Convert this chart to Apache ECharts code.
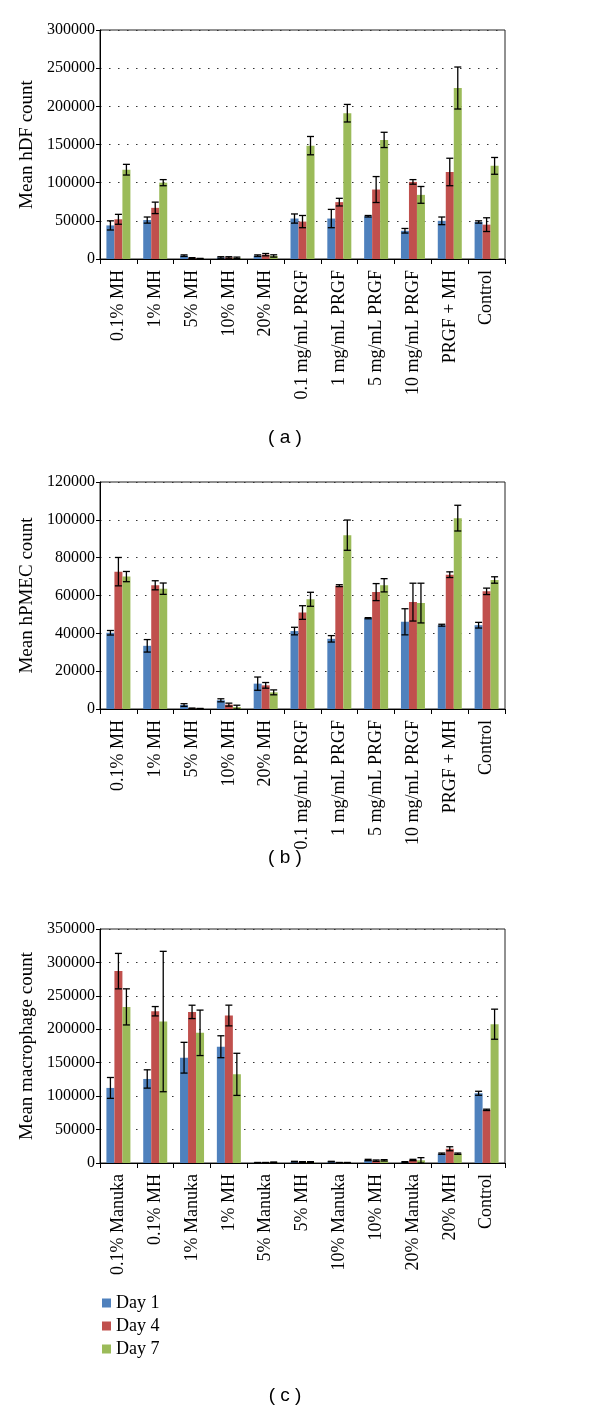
<!DOCTYPE html>
<html>
<head>
<meta charset="utf-8">
<script src="https://cdn.jsdelivr.net/npm/echarts@6/dist/echarts.min.js"></script>
<style>
html,body{margin:0;padding:0;background:#fff;}
#chart{width:600px;height:1409px;}
</style>
</head>
<body>
<div id="chart"></div>
<script>
// ---------- DATA ----------
const catsA = ['0.1% MH','1% MH','5% MH','10% MH','20% MH','0.1 mg/mL PRGF','1 mg/mL PRGF','5 mg/mL PRGF','10 mg/mL PRGF','PRGF + MH','Control'];
const day1A = [44000,51000,4400,2000,4400,53000,53000,56000,37000,50000,48500];
const err1A = [6000,4000,1000,1000,1000,6000,12000,1000,3000,5000,1500];
const day4A = [52000,67000,1300,2000,5700,49000,74500,91000,101000,114000,45000];
const err4A = [6500,7500,500,1000,1500,8000,5000,17000,3000,18000,9000];
const day7A = [117000,100000,500,1500,4000,148500,191000,156000,84000,224000,122000];
const err7A = [7000,4000,300,1000,1500,12000,11500,10000,11000,27500,11000];

const catsB = ['0.1% MH','1% MH','5% MH','10% MH','20% MH','0.1 mg/mL PRGF','1 mg/mL PRGF','5 mg/mL PRGF','10 mg/mL PRGF','PRGF + MH','Control'];
const day1B = [40300,33400,2100,4600,13400,41200,37100,48000,46100,44300,44300];
const err1B = [1200,3300,700,800,3500,2000,1700,300,6900,500,1500];
const day4B = [72600,65400,300,2300,12500,51000,65200,61800,56500,71000,62200];
const err4B = [7500,2400,200,800,1500,3600,500,4500,10000,1500,1700];
const day7B = [70000,63600,200,1000,8800,58000,91900,65400,56000,100900,68200];
const err7B = [2700,3000,100,1000,1300,3700,8000,3500,10500,6800,1700];

const catsC = ['0.1% Manuka','0.1% MH','1% Manuka','1% MH','5% Manuka','5% MH','10% Manuka','10% MH','20% Manuka','20% MH','Control'];
const day1C = [112300,125700,157500,173900,500,2000,2000,4500,1500,13900,104300];
const err1C = [15600,13700,23000,16400,300,500,500,1000,500,1000,3000];
const day4C = [287000,227000,226000,220600,500,1500,500,3500,4500,21300,79500];
const err4C = [26500,7000,10000,15500,300,500,300,1000,1000,3000,1000];
const day7C = [233500,211600,194700,132600,1000,1500,500,4000,4000,13900,207600];
const err7C = [27000,105000,34000,31500,500,500,300,1000,4000,1000,22500];

const seriesNames = ['Day 1','Day 4','Day 7'];
const yTitles = ['Mean hDF count','Mean hPMEC count','Mean macrophage count'];
const panelLabels = ['( a )','( b )','( c )'];

// ---------- STYLE ----------
const colors = ['#4F81BD','#C0504D','#9BBB59'];
const BAR_W = 8;
const SERIF = '"Liberation Serif","Times New Roman",serif';
const SANS = '"Liberation Sans",Arial,sans-serif';

const panels = [
  {cats: catsA, vals: [day1A, day4A, day7A], errs: [err1A, err4A, err7A], max: 300000, interval: 50000},
  {cats: catsB, vals: [day1B, day4B, day7B], errs: [err1B, err4B, err7B], max: 120000, interval: 20000},
  {cats: catsC, vals: [day1C, day4C, day7C], errs: [err1C, err4C, err7C], max: 350000, interval: 50000}
];
const grids = [
  {left: 100, top: 30, width: 405, height: 229},
  {left: 100, top: 482, width: 405, height: 227},
  {left: 100, top: 929, width: 405, height: 234}
];

function errRender(k) {
  return function (params, api) {
    const xi = api.value(0), v = api.value(1), e = api.value(2);
    const p0 = api.coord([xi, v]);
    const hi = api.coord([xi, v + e]);
    const lo = api.coord([xi, Math.max(0, v - e)]);
    const x = p0[0] + (k - 1) * BAR_W;
    const cw = 3.5;
    const st = {stroke: '#000', lineWidth: 1.3};
    return {
      type: 'group',
      children: [
        {type: 'line', shape: {x1: x, y1: hi[1], x2: x, y2: lo[1]}, style: st},
        {type: 'line', shape: {x1: x - cw, y1: hi[1], x2: x + cw, y2: hi[1]}, style: st},
        {type: 'line', shape: {x1: x - cw, y1: lo[1], x2: x + cw, y2: lo[1]}, style: st}
      ]
    };
  };
}

const xAxis = [], yAxis = [], series = [], gridOpts = [];
panels.forEach((p, gi) => {
  gridOpts.push(Object.assign({show: true, borderColor: '#222', borderWidth: 1, backgroundColor: 'transparent'}, grids[gi]));
  xAxis.push({
    type: 'category', gridIndex: gi, data: p.cats,
    axisLine: {lineStyle: {color: '#000', width: 1}},
    axisTick: {show: true, inside: false, length: 5, alignWithLabel: false, lineStyle: {color: '#000'}},
    axisLabel: {rotate: 90, margin: 11, color: '#000', fontFamily: SERIF, fontSize: 18, interval: 0},
    splitLine: {show: false}
  });
  yAxis.push({
    type: 'value', gridIndex: gi, min: 0, max: p.max, interval: p.interval,
    name: yTitles[gi], nameLocation: 'middle', nameRotate: 90, nameGap: 55,
    nameTextStyle: {color: '#000', fontFamily: SERIF, fontSize: 19},
    axisLine: {show: true, lineStyle: {color: '#000', width: 1}},
    axisTick: {show: true, inside: false, length: 4, lineStyle: {color: '#000'}},
    axisLabel: {color: '#000', fontFamily: SERIF, fontSize: 16, margin: 5, formatter: v => String(v)},
    splitLine: {show: true, lineStyle: {color: '#333', type: [1.5, 7.5], width: 1.2}}
  });
  p.vals.forEach((arr, k) => {
    series.push({
      type: 'bar', name: seriesNames[k], xAxisIndex: gi, yAxisIndex: gi,
      data: arr, barWidth: BAR_W, barGap: '0%',
      itemStyle: {color: colors[k]}, z: 2
    });
  });
  p.vals.forEach((arr, k) => {
    series.push({
      type: 'custom', xAxisIndex: gi, yAxisIndex: gi,
      renderItem: errRender(k),
      data: arr.map((v, i) => [i, v, p.errs[k][i]]),
      encode: {x: 0, y: 1}, z: 5, silent: true
    });
  });
});

const chart = echarts.init(document.getElementById('chart'), null, {renderer: 'canvas'});
const titleStyle = {fontFamily: SANS, fontSize: 19, fontWeight: 'normal', color: '#000'};
chart.setOption({
  animation: false,
  backgroundColor: '#fff',
  grid: gridOpts,
  xAxis: xAxis,
  yAxis: yAxis,
  legend: {
    data: seriesNames, orient: 'vertical', left: 97, top: 1289,
    icon: 'rect', itemWidth: 9, itemHeight: 9, itemGap: 5,
    textStyle: {color: '#000', fontFamily: SERIF, fontSize: 18}
  },
  title: [
    {text: panelLabels[0], left: 280, top: 423, textAlign: 'center', textStyle: titleStyle},
    {text: panelLabels[1], left: 280, top: 843, textAlign: 'center', textStyle: titleStyle},
    {text: panelLabels[2], left: 280, top: 1381, textAlign: 'center', textStyle: titleStyle}
  ],
  series: series
});
</script>
</body>
</html>
